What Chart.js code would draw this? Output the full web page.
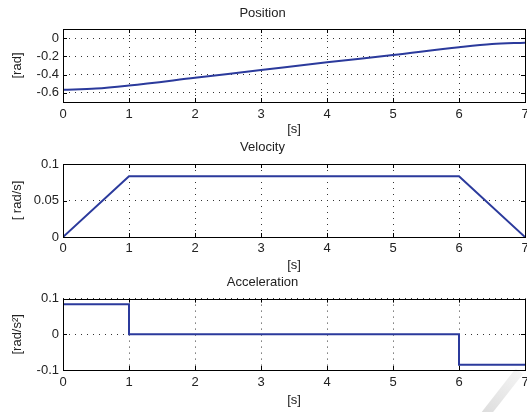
<!DOCTYPE html>
<html>
<head>
<meta charset="utf-8">
<script src="https://cdn.jsdelivr.net/npm/chart.js@4.4.0/dist/chart.umd.min.js"></script>
<style>
  body { margin: 0; background: #fff; width: 527px; height: 412px; overflow: hidden; position: relative; }
  canvas { position: absolute; left: 0; }
  .marca { position: absolute; left: 497px; top: 365px; width: 9px; height: 58px; background: linear-gradient(#f4f4f4, #dcdcdc); transform: rotate(38deg); }
</style>
</head>
<body>
<div class="marca"></div>
<canvas id="posChart" width="527" height="137" style="top:0px"></canvas>
<canvas id="velChart" width="527" height="138" style="top:135px"></canvas>
<canvas id="accChart" width="527" height="142" style="top:270px"></canvas>

<script>
// datos
const ticksX = [0, 1, 2, 3, 4, 5, 6, 7];

const tiempoPos = [0, 0.5, 1, 2, 3, 4, 5, 6, 6.5, 7];
const posicion = [-0.565, -0.553, -0.52, -0.435, -0.35, -0.265, -0.185, -0.1, -0.065, -0.05];
const ticksPos = [-0.6, -0.4, -0.2, 0];

const tiempoVel = [0, 1, 6, 7];
const velocidad = [0, 0.0833, 0.0833, 0];
const ticksVel = [0, 0.05, 0.1];

const tiempoAcc = [0, 1, 6, 7];
const aceleracion = [0.0845, 0, -0.085, -0.085];
const ticksAcc = [-0.1, 0, 0.1];

const colorLinea = '#2b3a9c';
const fuente = { family: 'Liberation Sans, Arial, Helvetica, sans-serif', size: 13, weight: 'normal' };

// caja negra con marcas hacia adentro (estilo matlab)
const cajaPlugin = {
  id: 'caja',
  afterDraw(chart) {
    const ctx = chart.ctx;
    const a = chart.chartArea;
    const sx = chart.scales.x, sy = chart.scales.y;
    ctx.save();
    ctx.strokeStyle = '#000';
    ctx.lineWidth = 1;
    ctx.beginPath();
    sx.ticks.forEach(t => {
      const px = Math.round(sx.getPixelForValue(t.value)) + 0.5;
      ctx.moveTo(px, a.bottom); ctx.lineTo(px, a.bottom - 4);
      ctx.moveTo(px, a.top); ctx.lineTo(px, a.top + 4);
    });
    sy.ticks.forEach(t => {
      const py = Math.round(sy.getPixelForValue(t.value)) + 0.5;
      ctx.moveTo(a.left, py); ctx.lineTo(a.left + 4, py);
      ctx.moveTo(a.right, py); ctx.lineTo(a.right - 4, py);
    });
    ctx.stroke();
    ctx.strokeRect(Math.round(a.left) + 0.5, Math.round(a.top) + 0.5,
      Math.round(a.right - a.left), Math.round(a.bottom - a.top));
    ctx.restore();
  }
};

function crearGrafico(id, titulo, xs, ys, yMin, yMax, yTicks, yTitulo, p, modo) {
  const puntos = xs.map((x, i) => ({ x: x, y: ys[i] }));
  return new Chart(document.getElementById(id), {
    type: 'line',
    data: {
      datasets: [{
        data: puntos,
        borderColor: colorLinea,
        borderWidth: 2,
        pointRadius: 0,
        fill: false,
        tension: 0,
        cubicInterpolationMode: modo === 'curva' ? 'monotone' : 'default',
        stepped: modo === 'escalon' ? 'before' : false
      }]
    },
    options: {
      responsive: false,
      animation: false,
      devicePixelRatio: 1,
      layout: { padding: { left: 0, right: 2, top: 0, bottom: 0 } },
      plugins: {
        legend: { display: false },
        tooltip: { enabled: false },
        title: {
          display: true, text: titulo, color: '#222', font: fuente,
          padding: { top: p.tituloArriba, bottom: p.tituloAbajo }
        }
      },
      scales: {
        x: {
          type: 'linear', min: 0, max: 7,
          afterBuildTicks: s => { s.ticks = ticksX.map(v => ({ value: v })); },
          afterFit: s => { s.height = p.altoX; s.paddingLeft = 0; s.paddingRight = 0; },
          grid: { color: '#333', lineWidth: 1, drawTicks: false },
          border: { display: false, dash: [1, 5] },
          ticks: { color: '#222', font: fuente, padding: p.padTickX, maxRotation: 0, autoSkip: false, callback: v => String(v) },
          title: { display: true, text: '[s]', color: '#222', font: fuente, padding: { top: 0, bottom: p.padTituloX } }
        },
        y: {
          type: 'linear', min: yMin, max: yMax,
          afterBuildTicks: s => { s.ticks = yTicks.map(v => ({ value: v })); },
          afterFit: s => { s.width = 63; s.paddingTop = 0; s.paddingBottom = 0; },
          grid: { color: '#333', lineWidth: 1, drawTicks: false },
          border: { display: false, dash: [1, 5] },
          ticks: { color: '#222', font: fuente, padding: 4, autoSkip: false, callback: v => String(v) },
          title: { display: true, text: yTitulo, color: '#222', font: fuente, padding: { top: 10, bottom: 0 } }
        }
      }
    },
    plugins: [cajaPlugin]
  });
}

crearGrafico('posChart', 'Position', tiempoPos, posicion, -0.7, 0.1, ticksPos, '[rad]',
  { tituloArriba: 6, tituloAbajo: 7.4, altoX: 35, padTickX: 5, padTituloX: 0 }, 'curva');
crearGrafico('velChart', 'Velocity', tiempoVel, velocidad, 0, 0.1, ticksVel, '[ rad/s]',
  { tituloArriba: 5, tituloAbajo: 8.4, altoX: 36, padTickX: 4, padTituloX: 0 }, 'recta');
crearGrafico('accChart', 'Acceleration', tiempoAcc, aceleracion, -0.1, 0.1, ticksAcc, '[rad/s\u00b2]',
  { tituloArriba: 5, tituloAbajo: 8, altoX: 42, padTickX: 5, padTituloX: 4 }, 'escalon');
</script>
</body>
</html>
